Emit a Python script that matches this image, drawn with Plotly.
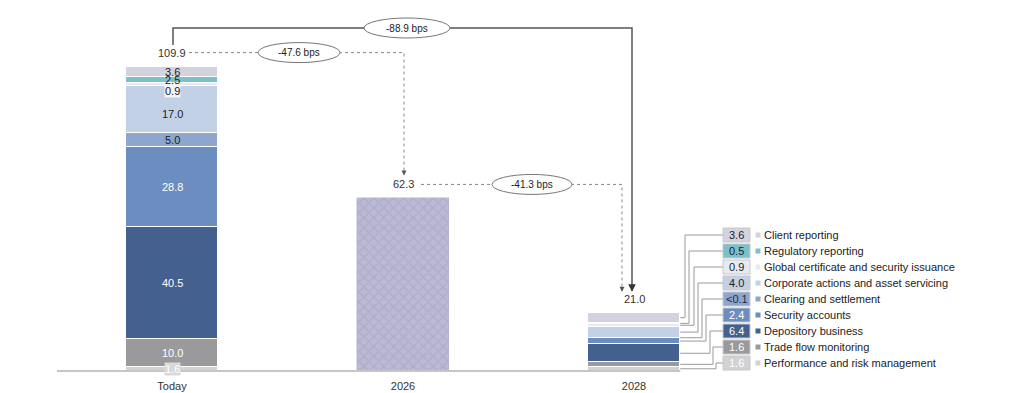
import plotly.graph_objects as go

# ---------------- data ----------------
categories = ["Today", "2026", "2028"]
segments = ["Performance and risk management", "Trade flow monitoring", "Depository business",
            "Security accounts", "Clearing and settlement", "Corporate actions and asset servicing",
            "Global certificate and security issuance", "Regulatory reporting", "Client reporting"]
today_values = [1.6, 10.0, 40.5, 28.8, 5.0, 17.0, 0.9, 2.5, 3.6]
y2028_values = [1.6, 1.6, 6.4, 2.4, 0.05, 4.0, 0.9, 0.5, 3.6]
y2028_labels = ["1.6", "1.6", "6.4", "2.4", "<0.1", "4.0", "0.9", "0.5", "3.6"]
total_2026 = 62.3
totals = [109.9, 62.3, 21.0]
deltas = ["-88.9 bps", "-47.6 bps", "-41.3 bps"]

colors = ["#d2d2d4", "#9a9a9c", "#44608f", "#6b8dc0", "#8ea6cd", "#c3d1e7",
          "#e6ebf3", "#7cc0cb", "#d3d2df"]
text_colors = ["white", "white", "white", "white", "#222", "#222", "#222", "#222", "#222"]
box_text_colors = ["white", "white", "white", "white", "#1e2a44", "#222", "#222", "#222", "#222"]

# ---------------- geometry helpers ----------------
PX = 2.77            # pixels per unit
X0, XS = 172, 231    # pixel of category 0, pixels per category
BASE = 371           # pixel of value 0


def X(px):
    return (px - X0) / XS


def Y(py):
    return (BASE - py) / PX


W, H = 1024, 393
ML, MB = 57, 20
BW = 0.40

fig = go.Figure()

for i, seg in enumerate(segments):
    fig.add_trace(go.Bar(
        x=[0, 2], y=[today_values[i], y2028_values[i]], name=seg,
        marker=dict(color=colors[i], line=dict(color="white", width=1)),
        width=BW, showlegend=False, hoverinfo="skip"))

fig.add_trace(go.Bar(
    x=[1], y=[total_2026], width=BW, showlegend=False, hoverinfo="skip",
    marker=dict(color="#aaa8c8", line=dict(color="#b3b1cf", width=0.5),
                pattern=dict(shape="x", size=7, solidity=0.35,
                             bgcolor="#bbb9d4", fgcolor="#a19fc1"))))

shapes = []
ann = []

# baseline
shapes.append(dict(type="line", xref="x", yref="y", x0=X(57), x1=2 + BW / 2, y0=0, y1=0,
                   line=dict(color="#c6c6c6", width=2)))
# faint y ticks
for v in range(0, 121, 20):
    shapes.append(dict(type="line", xref="x", yref="y", x0=X(54), x1=X(57), y0=v, y1=v,
                       line=dict(color="#e2e2e2", width=1)))

# labels inside Today bar
cum = 0
for i, v in enumerate(today_values):
    mid = cum + v / 2
    cum += v
    ys = 0
    bg = None
    if i == 6:
        ys = -6
        bg = "#f2f4f8"
    if i == 5:
        ys = -4
    if i == 0:
        bg = "#d9d9db"
    a = dict(x=0, y=mid, text=f"{v:.1f}", showarrow=False, yshift=ys,
             font=dict(size=11, color=text_colors[i], family="Liberation Sans, Arial"))
    if bg:
        a.update(bgcolor=bg, borderpad=0)
    ann.append(a)

# totals
for k, t in enumerate(totals):
    ann.append(dict(x=k, y=t, text=f"{t:.1f}", showarrow=False, yshift=14,
                    font=dict(size=11, color="#333", family="Liberation Sans, Arial")))

lab_off = 14 / PX
t0 = totals[0] + lab_off
t1 = totals[1] + lab_off
t2 = totals[2] + lab_off

# solid arrow: Today -> 2028
top_y = Y(28)
shapes.append(dict(type="path", xref="x", yref="y",
                   path=f"M {X(173)},{Y(45)} L {X(173)},{top_y} L {X(632)},{top_y} L {X(632)},{t2 + 8/PX}",
                   line=dict(color="#555", width=1.5)))
ann.append(dict(x=X(632), y=t2 + 7/PX, ax=X(632), ay=t2 + 14/PX, axref="x", ayref="y",
                xref="x", yref="y", showarrow=True, arrowhead=2, arrowsize=1, arrowwidth=1.5,
                arrowcolor="#333", text=""))
# dashed: Today -> 2026
shapes.append(dict(type="path", xref="x", yref="y",
                   path=f"M {X(189)},{t0} L {X(404)},{t0} L {X(404)},{t1 + 10/PX}",
                   line=dict(color="#888", width=1, dash="dot")))
ann.append(dict(x=X(404), y=t1 + 9/PX, ax=X(404), ay=t1 + 15/PX, axref="x", ayref="y",
                xref="x", yref="y", showarrow=True, arrowhead=2, arrowsize=1, arrowwidth=1,
                arrowcolor="#555", text=""))
# dashed: 2026 -> 2028
shapes.append(dict(type="path", xref="x", yref="y",
                   path=f"M {X(421)},{t1} L {X(622)},{t1} L {X(622)},{t2 + 8/PX}",
                   line=dict(color="#888", width=1, dash="dot")))
ann.append(dict(x=X(622), y=t2 + 7/PX, ax=X(622), ay=t2 + 13/PX, axref="x", ayref="y",
                xref="x", yref="y", showarrow=True, arrowhead=2, arrowsize=1, arrowwidth=1,
                arrowcolor="#555", text=""))

# ellipses with deltas
ell = [(407, 28, 86, 20), (299, 52, 82, 20), (532, 188, 80, 20)]
ell_y = [top_y, t0, t1]
for (cx, cy, ew, eh), yy, txt in zip(ell, ell_y, deltas):
    shapes.append(dict(type="circle", xref="x", yref="y",
                       x0=X(cx - ew / 2), x1=X(cx + ew / 2),
                       y0=yy - eh / 2 / PX, y1=yy + eh / 2 / PX,
                       fillcolor="white", line=dict(color="#777", width=1)))
    ann.append(dict(x=X(cx), y=yy, text=txt, showarrow=False,
                    font=dict(size=10, color="#222", family="Liberation Sans, Arial")))

# legend for 2028 with connectors
elbow_px = [716, 713, 710, 706, 702, 698, 694, 689, 685]
cum = 0
n = len(segments)
for i in range(n):
    v = y2028_values[i]
    mid = cum + v / 2
    cum += v
    row = n - 1 - i
    ry = Y(235 + 16 * row)
    ex = X(elbow_px[i])
    shapes.append(dict(type="path", xref="x", yref="y",
                       path=f"M {2 + BW/2},{mid} L {ex},{mid} L {ex},{ry} L {X(723)},{ry}",
                       line=dict(color="#9a9a9a", width=1)))
    shapes.append(dict(type="rect", xref="x", yref="y", x0=X(723), x1=X(750),
                       y0=ry - 7 / PX, y1=ry + 7 / PX, fillcolor=colors[i],
                       line=dict(color="#c8c8c8", width=1)))
    ann.append(dict(x=X(736.5), y=ry, text=y2028_labels[i], showarrow=False,
                    font=dict(size=11, color=box_text_colors[i], family="Liberation Sans, Arial")))
    shapes.append(dict(type="rect", xref="x", yref="y", x0=X(755.5), x1=X(760.5),
                       y0=ry - 2.5 / PX, y1=ry + 2.5 / PX, fillcolor=colors[i],
                       line=dict(width=0)))
    ann.append(dict(x=X(762), y=ry, text=segments[i], showarrow=False, xanchor="left",
                    font=dict(size=11, color="#222", family="Liberation Sans, Arial")))

fig.update_layout(
    width=W, height=H, barmode="stack", bargap=0,
    margin=dict(l=ML, r=0, t=0, b=MB),
    plot_bgcolor="white", paper_bgcolor="white",
    shapes=shapes, annotations=ann,
    xaxis=dict(range=[X(ML), X(W)], tickvals=[0, 1, 2], ticktext=categories,
               showgrid=False, zeroline=False, showline=False,
               ticks="outside", ticklen=3, tickcolor="rgba(0,0,0,0)",
               tickfont=dict(size=11, color="#333", family="Liberation Sans, Arial")),
    yaxis=dict(range=[Y(H - MB), Y(0)], showticklabels=False, showgrid=False,
               zeroline=False, showline=False, ticks=""),
)

fig.write_html("out.html", config={"displayModeBar": False},
               post_script="document.body.style.margin='0px';document.body.style.overflow='hidden';")
